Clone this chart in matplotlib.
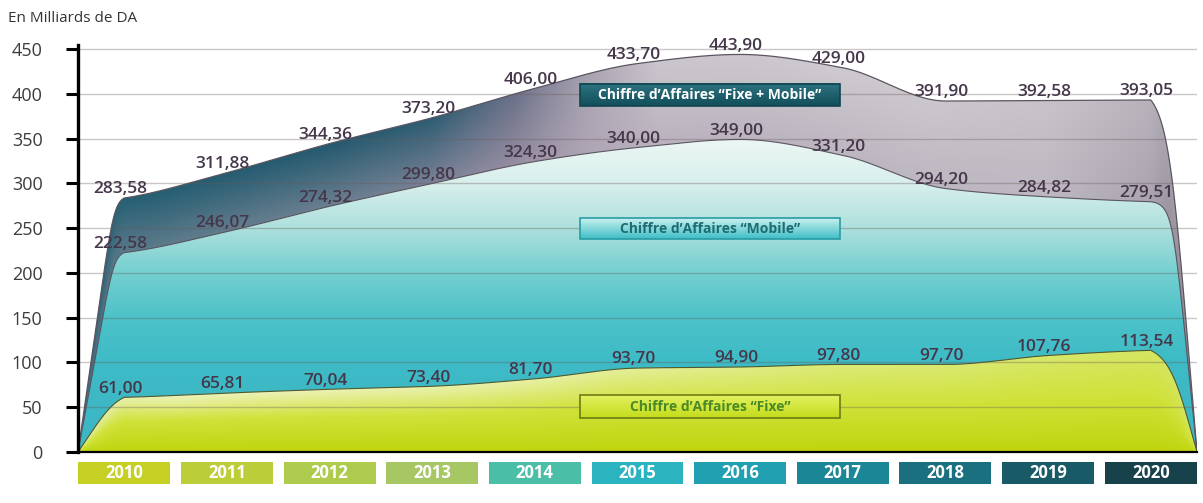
import numpy as np
import matplotlib
matplotlib.use("Agg")
import matplotlib.pyplot as plt
from matplotlib.colors import to_rgb
from matplotlib.patches import Rectangle
from matplotlib.transforms import blended_transform_factory

plt.rcParams["font.family"] = ["Open Sans", "DejaVu Sans"]

# === Données (en milliards de DA) ===
years = ["2010", "2011", "2012", "2013", "2014", "2015", "2016", "2017", "2018", "2019", "2020"]
ca_total = [283.58, 311.88, 344.36, 373.20, 406.00, 433.70, 443.90, 429.00, 391.90, 392.58, 393.05]
ca_mobile = [222.58, 246.07, 274.32, 299.80, 324.30, 340.00, 349.00, 331.20, 294.20, 284.82, 279.51]
ca_fixe = [61.00, 65.81, 70.04, 73.40, 81.70, 93.70, 94.90, 97.80, 97.70, 107.76, 113.54]
year_colors = ["#c6cf24", "#bccd3a", "#aecb4e", "#a6c763", "#4bbea8", "#2bb3c0",
               "#20a0b0", "#1b8796", "#1a707e", "#185a66", "#17414b"]

X0, X1 = -0.45, len(years) - 1 + 0.45
YMAX = 455


def pchip(xk, yk, xs):
    xk = np.asarray(xk, float)
    yk = np.asarray(yk, float)
    h = np.diff(xk)
    d = np.diff(yk) / h
    m = np.zeros_like(yk)
    for i in range(1, len(yk) - 1):
        if d[i - 1] * d[i] > 0:
            w1 = 2 * h[i] + h[i - 1]
            w2 = h[i] + 2 * h[i - 1]
            m[i] = (w1 + w2) / (w1 / d[i - 1] + w2 / d[i])
    m[0] = d[0] * 0.6
    m[-1] = d[-1] * 0.6
    idx = np.clip(np.searchsorted(xk, xs) - 1, 0, len(h) - 1)
    t = (xs - xk[idx]) / h[idx]
    h00 = 2 * t**3 - 3 * t**2 + 1
    h10 = t**3 - 2 * t**2 + t
    h01 = -2 * t**3 + 3 * t**2
    h11 = t**3 - t**2
    return (h00 * yk[idx] + h10 * h[idx] * m[idx]
            + h01 * yk[idx + 1] + h11 * h[idx] * m[idx + 1])


def ramp(t, a, k):
    # montée arrondie : quasi linéaire puis coin adouci
    g = a * t / (1 + (a * t) ** k) ** (1 / k)
    g1 = a / (1 + a ** k) ** (1 / k)
    return g / g1


def profile(vals, left, right):
    n = len(vals)
    xm = np.linspace(0, n - 1, 800)
    ym = pchip(np.arange(n), vals, xm)
    tl = np.linspace(0, 1, 80)
    xl = X0 + (0 - X0) * tl
    yl = vals[0] * ramp(tl, *left)
    tr = np.linspace(1, 0, 80)
    xr = (n - 1) + (X1 - (n - 1)) * (1 - tr)
    yr = vals[-1] * ramp(tr, *right)
    return np.concatenate([xl, xm[1:], xr[1:]]), np.concatenate([yl, ym[1:], yr[1:]])


def stops(pos, pts, cols):
    cols = np.array([to_rgb(c) for c in cols])
    return np.stack([np.interp(pos, pts, cols[:, j]) for j in range(3)], axis=-1)


xt, yt = profile(ca_total, (1.25, 10), (1.5, 4))
xmo, ymo = profile(ca_mobile, (1.25, 10), (1.8, 6))
xf, yf = profile(ca_fixe, (1.1, 4), (1.5, 3))

fig = plt.figure(figsize=(12.03, 5.03), dpi=100)
ax = fig.add_axes([78 / 1203, 51 / 503, 1119 / 1203, 407.5 / 503])
ax.set_xlim(X0, X1)
ax.set_ylim(0, YMAX)

# grilles de couleurs
W, H = 1100, 460
gx = np.linspace(X0, X1, W)
gy = np.linspace(0, YMAX, H)
GX, GY = np.meshgrid(gx, gy)
tot_g = np.interp(gx, xt, yt)
mob_g = np.interp(gx, xmo, ymo)
fix_g = np.interp(gx, xf, yf)
ext = (X0, X1, 0, YMAX)

# Fixe + Mobile : bande sombre à gauche, gris clair à droite
sx = [-0.45, 0, 2, 3, 3.8, 4.5, 5.2, 7, 9, 10, 10.45]
top_c = stops(gx, sx, ["#3d6a7c", "#265f73", "#24596e", "#2f5d72", "#6a7188", "#a8a2b0",
                       "#cbc6cd", "#cfcad0", "#c8c3c9", "#b8b2bb", "#8c8792"])
bot_c = stops(gx, sx, ["#4f7384", "#5a7a8a", "#6b7f90", "#7a8196", "#978ea2", "#aea5b4",
                       "#bab3bf", "#bcb6c0", "#bdb8c1", "#aaa4af", "#86818c"])
r = np.clip((GY - mob_g) / np.maximum(tot_g - mob_g, 1), 0, 1)[..., None]
img_total = bot_c[None] * (1 - r) + top_c[None] * r

# Mobile : dégradé vertical turquoise -> vert d'eau
img_mobile = stops(GY, [0, 100, 150, 200, 250, 300, 350],
                   ["#3db5c3", "#3dbbc6", "#4dc2c9", "#74cfd0", "#ade0dd", "#d8efec", "#ecf7f4"])

# Fixe : vert anis, plus pâle vers le haut
ftop = stops(gx, [-0.45, 0.5, 4, 7, 10.45], ["#e2eca0", "#eef3c0", "#e8f0a8", "#dcea78", "#d4e560"])
fmid = np.array(to_rgb("#d0e23a"))
fbot = np.array(to_rgb("#bfd50e"))
rf = np.clip(GY / np.maximum(fix_g, 1), 0, 1)[..., None]
lo = fbot * (1 - rf / 0.55) + fmid * (rf / 0.55)
hi = fmid * (1 - (rf - 0.55) / 0.45) + ftop[None] * ((rf - 0.55) / 0.45)
img_fixe = np.where(rf < 0.55, lo, hi)

for (xs, ys, img, z) in [(xt, yt, img_total, 1), (xmo, ymo, img_mobile, 2), (xf, yf, img_fixe, 3)]:
    poly = ax.fill_between(xs, 0, ys, facecolor="none", edgecolor="none", zorder=z)
    im = ax.imshow(np.clip(img, 0, 1), extent=ext, origin="lower", aspect="auto",
                   interpolation="bilinear", zorder=z)
    im.set_clip_path(poly.get_paths()[0], transform=ax.transData)

ax.plot(xt, yt, color="#5a5560", lw=0.9, zorder=4)
ax.plot(xmo, ymo, color="#5a5560", lw=0.8, zorder=4)
ax.plot(xf, yf, color="#4d5a30", lw=0.8, zorder=4)

# lignes de grille
yticks = np.arange(0, 451, 50)
for yv in yticks[1:]:
    ax.axhline(yv, color="#6a5a5a", alpha=0.35, lw=1.0, zorder=5)

# axes
for s in ["top", "right"]:
    ax.spines[s].set_visible(False)
ax.spines["left"].set_linewidth(2.4)
ax.spines["bottom"].set_linewidth(1.6)
ax.spines["left"].set_zorder(8)
ax.spines["bottom"].set_zorder(8)
ax.set_xticks([])
ax.set_yticks(yticks)
ax.tick_params(axis="y", direction="out", length=8.5, width=2.2, pad=17,
               labelsize=13, labelcolor="#3c3c3c")

fig.text(8 / 1203, 1 - 18 / 503, "En Milliards de DA", fontsize=11, color="#333333",
         ha="left", va="center")

# étiquettes de valeurs
def fmt(v):
    return f"{v:.2f}".replace(".", ",")

for series in (ca_total, ca_mobile, ca_fixe):
    for i, v in enumerate(series):
        ax.annotate(fmt(v), (i, v), xytext=(-3, 0.5), textcoords="offset points",
                    ha="center", va="bottom", fontsize=12.5, fontweight="semibold",
                    color="#45374a", zorder=10)

# encadrés des séries
def label_box(y0, y1, text, ctop, cbot, edge, tcolor):
    bx0, bx1 = 4.44, 6.97
    grad = stops(np.linspace(0, 1, 40), [0, 1], [cbot, ctop])[:, None, :]
    ax.imshow(grad, extent=(bx0, bx1, y0, y1), origin="lower", aspect="auto",
              interpolation="bilinear", zorder=6)
    rect = Rectangle((bx0, y0), bx1 - bx0, y1 - y0, facecolor="none", edgecolor=edge,
                     lw=1.2, zorder=6.5)
    ax.add_patch(rect)
    ax.text((bx0 + bx1) / 2, (y0 + y1) / 2, text, ha="center", va="center",
            fontsize=10, fontweight="bold", color=tcolor, zorder=7)

label_box(386, 411, "Chiffre d’Affaires “Fixe + Mobile”", "#2d7480", "#124f5b", "#0f4550", "white")
label_box(238, 261, "Chiffre d’Affaires “Mobile”", "#c8f0ee", "#3fbec6", "#2a9ca4", "#1d6c72")
label_box(38, 63.6, "Chiffre d’Affaires “Fixe”", "#e2f060", "#c4dc1c", "#6c7c14", "#4a8a26")
ax.set_xlim(X0, X1)
ax.set_ylim(0, YMAX)

# cases des années sous l'axe
trans = blended_transform_factory(ax.transData, ax.transAxes)
for i, (yr, c) in enumerate(zip(years, year_colors)):
    ax.add_patch(Rectangle((i - 0.448, -0.0785), 0.896, 0.054, transform=trans,
                           facecolor=c, edgecolor="none", clip_on=False))
    ax.text(i, -0.0515, yr, transform=trans, ha="center", va="center",
            fontsize=12, fontweight="bold", color="white")

fig.savefig("out.png", dpi=100, facecolor="white")
